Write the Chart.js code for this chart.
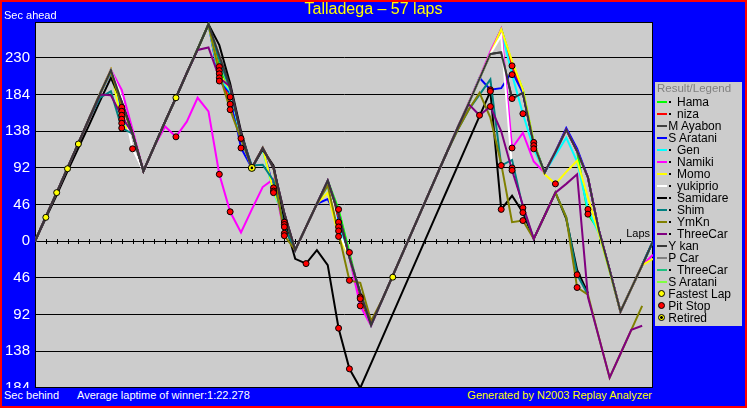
<!DOCTYPE html>
<html>
<head>
<meta charset="utf-8">
<script src="https://cdn.jsdelivr.net/npm/chart.js@4.4.1/dist/chart.umd.min.js"></script>
<style>
html,body{margin:0;padding:0;background:#0000FF;}
#wrap{position:relative;width:747px;height:408px;overflow:hidden;background:#0000FF;font-family:"Liberation Sans",Arial,sans-serif;}
#c{position:absolute;left:0;top:0;}
.t{position:absolute;white-space:nowrap;}
#redframe{position:absolute;left:0;top:0;width:747px;height:408px;box-sizing:border-box;border:2px solid #FF0000;pointer-events:none;}
#legend{position:absolute;left:655px;top:82px;width:87px;height:244px;background:#CCCCCC;overflow:hidden;}
#legend .txt{position:absolute;font-size:12px;line-height:12px;color:#000;white-space:nowrap;}
#legend .ln{position:absolute;left:2px;width:10px;height:2px;}
#legend .dot{position:absolute;left:14px;width:2px;height:2px;background:#000;}
#legend .mk{position:absolute;left:3px;width:5px;height:5px;border-radius:50%;border:1px solid #000;box-sizing:content-box;}
</style>
</head>
<body>
<div id="wrap">
  <canvas id="c" width="747" height="408"></canvas>
  <div class="t" style="left:0;top:388px;width:747px;height:20px;background:#0000FF;"></div>
  <div class="t" style="left:0;top:0;width:747px;text-align:center;font-size:16px;line-height:18px;color:#FFFF00;">Talladega – 57 laps</div>
  <div class="t" style="left:4px;top:9px;font-size:11px;line-height:13px;color:#FFFFFF;">Sec ahead</div>
  <div class="t" style="left:4px;top:389px;font-size:11px;line-height:13px;color:#FFFFFF;">Sec behind</div>
  <div class="t" style="left:77px;top:389px;font-size:11px;line-height:13px;color:#FFFFFF;">Average laptime of winner:1:22.278</div>
  <div class="t" style="right:95px;top:389px;font-size:11px;line-height:13px;color:#FFFF00;">Generated by N2003 Replay Analyzer</div>
  <div class="t" style="right:97px;top:227px;font-size:11px;line-height:13px;color:#000000;">Laps</div>
  <div id="legend"></div>
  <div id="redframe"></div>
</div>
<script>
// ---------------- data ----------------
const laps = [0,1,2,3,4,5,6,7,8,9,10,11,12,13,14,15,16,17,18,19,20,21,22,23,24,25,26,27,28,29,30,31,32,33,34,35,36,37,38,39,40,41,42,43,44,45,46,47,48,49,50,51,52,53,54,55,56,57];

const driverNames = ["Hama","niza","M Ayabon","S Aratani","Gen","Namiki","Momo","yukiprio","Samidare","Shim","YmKn","ThreeCar","Y kan","P Car","ThreeCar","S Aratani"];

const hama = [0,31,61,92,123,154,185,215,168,135, 88,119,150,180,211,241,272,219,181,134, 92,117,92,24,-11,18,47,76,40,-14, -70,-105,-74,-43,-12,19,50,81,112,143, 173,204,235,266,224,190,124,86,112,140, 113,34,14,-36,-88,-59,-30,0];
const niza = [0,31,61,92,123,154,185,215,163,135, 88,119,150,180,211,241,272,214,172,134, 92,117,92,21,-11,18,47,76,24,-20, -72,-105,-74,-43,-12,19,50,81,112,143, 173,204,235,266,220,186,120,86,112,140, 113,80,14,-36,-88,-59,-30,0];
const mAyabon = [0,31,61,92,123,154,185,215,175,135, 88,119,150,180,211,241,272,233,194,134, 92,117,92,35,-11,18,47,76,34,-20, -65,-105,-74,-43,-12,19,50,81,112,143, 173,204,235,237,179,186,122,86,112,140, 113,80,14,-36,-88,-59,-30,0];
const sAratani = [0,31,61,92,123,154,185,212,158,135, 88,119,150,180,211,241,272,201,186,117, 92,117,67,28,-11,18,47,53,25,-20, -65,-105,-74,-43,-12,19,50,81,112,143, 173,205,190,192,213,186,122,86,112,142, 116,80,14,-36,-88,-59,-30,0];
const gen = [0,31,61,92,123,154,185,213,153,135, 88,119,150,180,211,241,272,205,188,129, 92,115,61,30,-11,18,47,70,18,-20, -65,-105,-74,-43,-12,19,50,81,112,143, 173,204,235,266,209,160,116,86,108,130, 100,40,10,-38,-88,-59,-30,0];
const namiki = [0,31,61,92,123,154,185,215,190,140, 88,119,144,131,150,180,163,84,37,11, 40,68,78,10,-11,18,47,76,34,-20, -81,-106,-74,-43,-12,19,50,81,112,143, 174,205,238,266,117,136,100,86,112,140, 113,80,14,-36,-88,-59,-30,-17];
const momo = [0,31,61,92,123,154,185,215,148,135, 88,119,150,180,211,241,272,210,190,134, 92,117,63,30,-11,18,47,61,6,-20, -65,-105,-74,-43,-12,19,50,81,112,143, 173,204,235,266,226,190,124,84,72,87, 101,55,10,-38,-88,-59,-30,-22];
const yukiprio = [0,31,61,92,123,154,185,215,180,116, 88,119,150,180,211,241,272,233,190,134, 92,117,92,10,-11,18,47,76,13,-20, -65,-105,-74,-43,-12,19,50,81,112,143, 173,204,235,258,92,40,3,null,null,null, null,null,null,null,null,null,null,null];
const samidare = [0,29,58,88,117,146,176,205,175,135, 88,119,150,180,211,241,272,246,198,138, 92,115,95,26,-22,-28,-11,-30,-109,-160, -184,-153,-122,-91,-60,-29,2,33,64,95, 126,157,188,40,57,36,3,32,61,28, -36,-65,null,null,null,null,null,null];
const shim = [0,31,61,92,123,154,180,188,142,135, 88,119,150,180,211,241,272,228,190,134, 95,96,76,18,-11,18,47,76,34,-20, -65,-105,-74,-43,-12,19,50,81,112,140, 165,184,203,95,102,42,3,32,61,30, -42,-67,null,null,null,null,null,null];
const ymkn = [0,31,61,92,123,154,185,213,170,135, 88,119,150,180,211,241,272,210,165,128, 92,117,92,7,-11,18,47,70,10,-49, -52,-100,-74,-43,-12,19,50,81,112,140, 165,186,155,97,24,26,3,32,61,30, -58,-67,-120,-171,-141,-111,-81,null];
const threeCar = [0,31,61,92,123,154,184,183,157,135, 88,119,150,180,211,240,243,205,194,134, 92,117,92,35,-11,18,47,76,34,-20, -65,-105,-74,-43,-12,19,50,81,112,143, 172,158,169,138,89,45,3,32,61,72, 84,-70,-120,-171,-141,-111,-106,null];
const yKan = [0,31,61,92,123,154,185,215,175,135, 88,119,150,180,211,241,272,233,194,134, 92,117,92,35,-11,18,47,76,34,-20, -65,-105,-74,-43,-12,19,50,81,112,143, 173,204,235,237,179,186,122,86,112,140, 113,80,14,-36,-88,-59,-30,0];
const pCar = [];
const threeCar2 = [];
const sAratani2 = [];

const seriesValues = [hama,niza,mAyabon,sAratani,gen,namiki,momo,yukiprio,samidare,shim,ymkn,threeCar,yKan,pCar,threeCar2,sAratani2];

const pitLaps = [8,8,8,8,8,8, 9, 13, 17,17,17,17,17,17, 18,18,18,18, 19,19, 22,22,22, 23,23,23,23,23, 25, 28,28,28,28,28,28, 29,29,29, 30,30,30, 41, 42,42,42, 43,43, 44,44,44,44,44,44, 45,45,45,45, 46,46,46, 48, 50,50, 51,51];
const pitSecs = [168,163,158,153,148,142, 116, 131, 219,214,210,205,201,84, 181,172,165,37, 129,117, 67,63,61, 24,21,18,10,7, -28, 40,24,18,13,6,-109, -14,-49,-160, -70,-72,-81, 158, 190,188,169, 95,40, 220,209,179,117,92,89, 160,42,36,26, 124,120,116, 72, -42,-58, 40,34];

const fastLaps = [1,2,3,4,13,33];
const fastSecs = [30,61,91,122,180,-45];

const retiredLaps = [20];
const retiredSecs = [92];

const yTickValues = [-184,-138,-92,-46,0,46,92,138,184,230];

// ---------------- styles ----------------
const seriesColors = ["#00FF00","#FF0000","#404040","#0000FF","#00FFFF","#FF00FF","#FFFF00","#FFFFFF","#000000","#008080","#808000","#800080","#383838","#808080","#20C080","#80FF40"];
const seriesDot = [true,true,false,false,true,true,true,true,true,true,true,true,false,false,true,false];

function toPoints(xs, ys){ return ys.map((v,i)=>({x:xs[i], y:v})); }

const datasets = [];
seriesValues.forEach((vals,i)=>{
  datasets.push({
    label: driverNames[i],
    data: toPoints(laps, vals),
    borderColor: seriesColors[i],
    backgroundColor: seriesColors[i],
    borderWidth: 2,
    pointRadius: 0,
    fill: false,
    tension: 0,
    spanGaps: false,
    order: seriesValues.length - i
  });
});
datasets.push({
  label:'Fastest Lap', data: toPoints(fastLaps, fastSecs), showLine:false,
  pointRadius:3, pointBackgroundColor:'#FFFF00', pointBorderColor:'#000000', pointBorderWidth:1, order:-1
});
datasets.push({
  label:'Pit Stop', data: toPoints(pitLaps, pitSecs), showLine:false,
  pointRadius:3, pointBackgroundColor:'#FF0000', pointBorderColor:'#000000', pointBorderWidth:1, order:-2
});
datasets.push({
  label:'Retired', data: toPoints(retiredLaps, retiredSecs), showLine:false,
  pointRadius:3.5, pointBackgroundColor:'#FFFF00', pointBorderColor:'#000000', pointBorderWidth:1, order:-3
});
datasets.push({
  label:'Retired core', data: toPoints(retiredLaps, retiredSecs), showLine:false,
  pointRadius:1.3, pointBackgroundColor:'#000000', pointBorderColor:'#000000', pointBorderWidth:0, order:-4
});

const tickLaps = laps.filter(l => l > 0 && l <= 54);

const framePlugin = {
  id:'plotFrame',
  beforeDraw(chart){
    const {ctx, chartArea:a} = chart;
    ctx.save();
    ctx.fillStyle = '#CCCCCC';
    ctx.fillRect(a.left, a.top, a.right-a.left, a.bottom-a.top);
    ctx.restore();
  },
  beforeDatasetsDraw(chart){
    const {ctx, chartArea:a, scales} = chart;
    const y0 = Math.round(scales.y.getPixelForValue(0)) + 0.5;
    ctx.save();
    ctx.strokeStyle = '#000000';
    ctx.lineWidth = 1;
    ctx.beginPath();
    tickLaps.forEach(l=>{
      const x = Math.round(scales.x.getPixelForValue(l)) + 0.5;
      ctx.moveTo(x, y0-2.5); ctx.lineTo(x, y0+2.5);
    });
    ctx.stroke();
    ctx.strokeRect(a.left+0.5, a.top+0.5, a.right-a.left-1, a.bottom-a.top-1);
    ctx.restore();
  }
};

new Chart(document.getElementById('c'), {
  type:'line',
  data:{ datasets },
  options:{
    responsive:false,
    devicePixelRatio:1,
    animation:false,
    events:[],
    layout:{ padding:{ left:0, right:94, top:22, bottom:20 } },
    plugins:{ legend:{display:false}, tooltip:{enabled:false}, title:{display:false} },
    scales:{
      x:{ type:'linear', min:0, max:57, display:false },
      y:{
        type:'linear', min:-184, max:275,
        afterBuildTicks(scale){ scale.ticks = yTickValues.map(v=>({value:v})); },
        afterFit(scale){ scale.width = 35; },
        ticks:{ color:'#FFFFFF', font:{family:'Liberation Sans', size:15}, padding:5,
                callback:(v)=>String(Math.abs(v)) },
        grid:{ color:'#000000', lineWidth:1, drawTicks:false },
        border:{ display:true, color:'#000000', width:1 }
      }
    }
  },
  plugins:[framePlugin]
});

// ---------------- legend (HTML text) ----------------
const legend = document.getElementById('legend');
const head = document.createElement('div');
head.className = 'txt';
head.style.left = '2px'; head.style.top = '0px'; head.style.color = '#808080'; head.style.fontSize = '11.5px';
head.textContent = 'Result/Legend';
legend.appendChild(head);
driverNames.forEach((n,i)=>{
  const top = 14 + 12*i;
  const ln = document.createElement('div');
  ln.className = 'ln'; ln.style.top = (top+4.7)+'px'; ln.style.background = seriesColors[i];
  legend.appendChild(ln);
  if (seriesDot[i]) {
    const d = document.createElement('div');
    d.className = 'dot'; d.style.top = (top+4.7)+'px';
    legend.appendChild(d);
  }
  const t = document.createElement('div');
  t.className = 'txt'; t.style.top = top+'px'; t.style.left = (seriesDot[i] ? 22 : 13.3)+'px';
  t.textContent = n;
  legend.appendChild(t);
});
const markerRows = [['Fastest Lap','#FFFF00',false],['Pit Stop','#FF0000',false],['Retired','#FFFF00',true]];
markerRows.forEach((m,k)=>{
  const top = 14 + 12*(driverNames.length + k);
  const mk = document.createElement('div');
  mk.className = 'mk'; mk.style.top = (top+2.3)+'px'; mk.style.background = m[1];
  if (m[2]) mk.style.background = 'radial-gradient(circle, #000 0 1.3px, #FFFF00 1.5px)';
  legend.appendChild(mk);
  const t = document.createElement('div');
  t.className = 'txt'; t.style.top = top+'px'; t.style.left = '13.3px';
  t.textContent = m[0];
  legend.appendChild(t);
});
</script>
</body>
</html>
